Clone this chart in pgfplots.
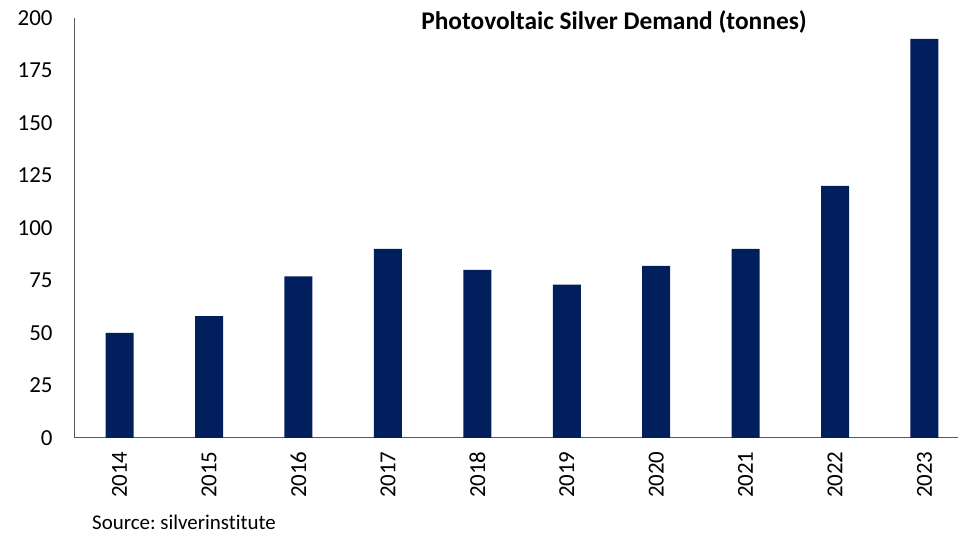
\documentclass[border=0pt]{standalone}
\usepackage{fontspec}
\setmainfont{Carlito}[Ligatures={NoCommon}]
\usepackage{pgfplots}
\pgfplotsset{compat=1.18}
\definecolor{barblue}{HTML}{001F5C}
\definecolor{axgray}{HTML}{595959}
\begin{document}
\frenchspacing
\begin{tikzpicture}[x=1bp,y=1bp]
\path[use as bounding box] (0,0) rectangle (958,535);
\begin{axis}[
  at={(74bp,97bp)}, anchor=south west,
  scale only axis, width=884bp, height=420bp,
  xmin=-0.51, xmax=9.375, ymin=0, ymax=200,
  axis lines*=left,
  axis line style={axgray, line width=1pt, -},
  ytick={0,25,...,200},
  xtick={0,...,9},
  xticklabels={2014,2015,2016,2017,2018,2019,2020,2021,2022,2023},
  x tick label style={rotate=90, anchor=east, font=\fontsize{23}{24}\selectfont},
  y tick label style={font=\fontsize{23}{24}\selectfont},
  /pgf/number format/assume math mode=true,
  major tick length=0pt,
  xticklabel shift=10bp,
  yticklabel shift=18bp,
  ybar, bar width=28bp,
  clip=false,
]
\addplot[fill=barblue, draw=none] coordinates {
(0,50) (1,58) (2,77) (3,90) (4,80) (5,73) (6,82) (7,90) (8,120) (9,190)};
\end{axis}
\node[font=\bfseries\fontsize{25.5}{27}\selectfont] at (614,513) {Photovoltaic Silver Demand (tonnes)};
\node[anchor=west, font=\fontsize{21}{23}\selectfont, inner sep=0pt] at (92,13) {Source: silverinstitute};
\end{tikzpicture}
\end{document}
